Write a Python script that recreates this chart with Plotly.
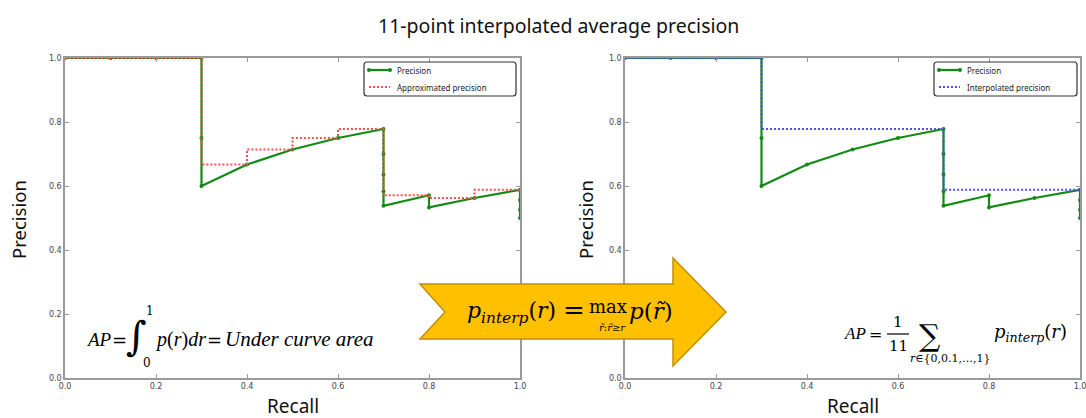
import plotly.graph_objects as go

# ---------------- data ----------------
recall = [0.0, 0.1, 0.2, 0.3, 0.3, 0.3, 0.4, 0.5, 0.6, 0.7, 0.7, 0.7, 0.7, 0.7,
          0.8, 0.8, 0.9, 1.0, 1.0, 1.0, 1.0]
precision = [1.0, 1.0, 1.0, 1.0, 0.75, 0.6, 0.667, 0.714, 0.75, 0.778, 0.7, 0.636,
             0.583, 0.538, 0.571, 0.533, 0.5625, 0.588, 0.556, 0.526, 0.5]
recall_levels = [0.0, 0.1, 0.2, 0.3, 0.4, 0.5, 0.6, 0.7, 0.8, 0.9, 1.0]
approx_precision = [1.0, 1.0, 1.0, 1.0, 0.667, 0.714, 0.75, 0.778, 0.571, 0.5625, 0.588]
interp_precision = [1.0, 1.0, 1.0, 1.0, 0.778, 0.778, 0.778, 0.778, 0.588, 0.588, 0.588]
tick_vals = [0.0, 0.2, 0.4, 0.6, 0.8, 1.0]
tick_text = ["0.0", "0.2", "0.4", "0.6", "0.8", "1.0"]
legend_left = ["Precision", "Approximated precision"]
legend_right = ["Precision", "Interpolated precision"]

W, H = 1086, 418
def fx(px):
    return px / W
def fy(py):
    return 1 - py / H

GREEN = "#138a13"
RED = "#ff4d4d"
BLUE = "#4d4dff"
DOT = "2px,2px"
fig = go.Figure()

for xa, ya, dname, dvals, dcol in [
    ("x", "y", legend_left[1], approx_precision, RED),
    ("x2", "y2", legend_right[1], interp_precision, BLUE),
]:
    fig.add_trace(go.Scatter(
        x=recall, y=precision, mode="lines+markers", name="Precision",
        line=dict(color=GREEN, width=2.2), marker=dict(size=4, color=GREEN),
        xaxis=xa, yaxis=ya, showlegend=False, cliponaxis=False))
    fig.add_trace(go.Scatter(
        x=recall_levels, y=dvals, mode="lines", name=dname, line_shape="vh",
        line=dict(color=dcol, width=2, dash=DOT),
        xaxis=xa, yaxis=ya, showlegend=False))

axis_common = dict(
    range=[0, 1], tickvals=tick_vals, ticktext=tick_text, ticks="inside",
    ticklen=4, tickcolor="#999", tickwidth=1, showline=True, linecolor="#9a9a9a",
    linewidth=1.5, mirror="allticks", showgrid=False, zeroline=False,
    automargin=False, ticklabeloverflow="allow",
    tickfont=dict(family="DejaVu Sans", size=8, color="#444"),
)
ydom = [fy(378), fy(58)]
fig.update_layout(
    xaxis=dict(domain=[fx(65), fx(520)], anchor="y", **axis_common),
    yaxis=dict(domain=ydom, anchor="x", **axis_common),
    xaxis2=dict(domain=[fx(625), fx(1080)], anchor="y2", **axis_common),
    yaxis2=dict(domain=ydom, anchor="x2", **axis_common),
)

SERIF = "DejaVu Serif"
TIMES = "Liberation Serif"
SANS = "Noto Sans"
def ann(text, px, py, size, xanchor="center", family=SERIF, color="black", textangle=0):
    fig.add_annotation(text=text, x=fx(px), y=fy(py), xref="paper", yref="paper",
                       showarrow=False, xanchor=xanchor, yanchor="middle",
                       font=dict(family=family, size=size, color=color),
                       textangle=textangle)

def rounded_box(x0, y0, x1, y1, r=3):
    p = (f"M {fx(x0 + r)},{fy(y0)} L {fx(x1 - r)},{fy(y0)} "
         f"Q {fx(x1)},{fy(y0)} {fx(x1)},{fy(y0 + r)} L {fx(x1)},{fy(y1 - r)} "
         f"Q {fx(x1)},{fy(y1)} {fx(x1 - r)},{fy(y1)} L {fx(x0 + r)},{fy(y1)} "
         f"Q {fx(x0)},{fy(y1)} {fx(x0)},{fy(y1 - r)} L {fx(x0)},{fy(y0 + r)} "
         f"Q {fx(x0)},{fy(y0)} {fx(x0 + r)},{fy(y0)} Z")
    fig.add_shape(type="path", path=p, xref="paper", yref="paper",
                  fillcolor="white", line=dict(color="#333", width=1.2), layer="above")

def legend(x0, x1, labels, dcol):
    rounded_box(x0, 62, x1, 96)
    lx0, lx1 = x0 + 5, x0 + 26
    fig.add_shape(type="line", xref="paper", yref="paper", x0=fx(lx0), x1=fx(lx1),
                  y0=fy(70), y1=fy(70), line=dict(color=GREEN, width=2.2), layer="above")
    for mx in (lx0, lx1):
        fig.add_shape(type="circle", xref="paper", yref="paper",
                      x0=fx(mx - 2), x1=fx(mx + 2), y0=fy(72), y1=fy(68),
                      fillcolor=GREEN, line=dict(color=GREEN, width=0), layer="above")
    fig.add_shape(type="line", xref="paper", yref="paper", x0=fx(lx0), x1=fx(lx1),
                  y0=fy(87), y1=fy(87), line=dict(color=dcol, width=2, dash=DOT),
                  layer="above")
    ann(labels[0], lx1 + 5, 70, 8, xanchor="left", family=SANS, color="#222")
    ann(labels[1], lx1 + 5, 87, 8, xanchor="left", family=SANS, color="#222")

legend(364, 516, legend_left, RED)
legend(934, 1077, legend_right, BLUE)

# arrow
pts = [(420, 284), (673, 284), (673, 258), (726, 312), (673, 366), (673, 339),
       (420, 339), (445, 312)]
path = "M " + " L ".join(f"{fx(a):.5f},{fy(b):.5f}" for a, b in pts) + " Z"
fig.add_shape(type="path", path=path, xref="paper", yref="paper",
              fillcolor="#FFC000", line=dict(color="#BF9000", width=1.5), layer="above")
# fraction bar
fig.add_shape(type="line", xref="paper", yref="paper", x0=fx(887), x1=fx(909),
              y0=fy(334), y1=fy(334), line=dict(color="black", width=1.2), layer="above")

# title and axis titles
ann("11-point interpolated average precision", 558, 25, 19.5, family=SANS, color="#111")
ann("Precision", 18, 220, 18.5, family=SANS, color="#111", textangle=-90)
ann("Precision", 585, 220, 18.5, family=SANS, color="#111", textangle=-90)
ann("Recall", 293, 406, 19, family=SANS, color="#111")
ann("Recall", 853, 406, 19, family=SANS, color="#111")

# arrow formula
ann("<i>p<sub>interp</sub></i>(<i>r</i>)", 465, 312, 22, xanchor="left")
ann("=", 574, 310, 26)
ann("max", 608, 306, 18)
ann("<i>r\u0303</i>:<i>r\u0303</i>≥<i>r</i>", 613, 327, 10)
ann("<i>p</i>(<i>r\u0303</i>)", 627, 311, 23, xanchor="left")

# left formula
ann("<i>AP</i>", 84, 339, 19, xanchor="left", family=TIMES)
ann("=", 119, 340, 18)
ann("∫", 136, 336, 40)
ann("1", 150, 311, 12)
ann("0", 147, 363, 12)
ann("<i>p</i>(<i>r</i>)<i>dr</i>", 153, 339, 20, xanchor="left", family=TIMES)
ann("=", 214, 340, 18)
ann("<i>Under curve area</i>", 223, 339, 21, xanchor="left", family=TIMES)

# right formula
ann("<i>AP</i>", 842, 333, 17, xanchor="left", family=TIMES)
ann("=", 875, 334, 16)
ann("1", 898, 322, 15)
ann("11", 898, 346, 15)
ann("∑", 930, 335, 30)
ann("<i>r</i>∈{0,0.1,…,1}", 950, 358, 11)
ann("<i>p<sub>interp</sub></i>(<i>r</i>)", 992, 333, 18, xanchor="left")

fig.update_layout(
    width=W, height=H, margin=dict(l=0, r=0, t=0, b=0, autoexpand=False),
    paper_bgcolor="white", plot_bgcolor="white", showlegend=False,
)
fig.write_html("out.html", config={"displayModeBar": False},
               post_script="document.body.style.margin='0px';")
